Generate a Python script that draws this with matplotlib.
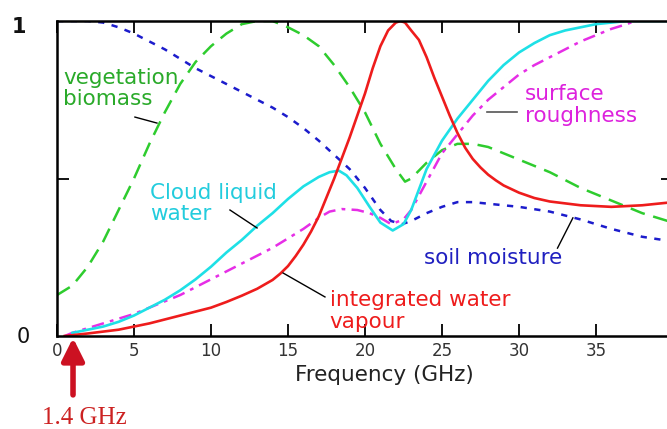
import matplotlib
matplotlib.use("Agg")
import matplotlib.pyplot as plt

# ---------------- data ----------------
veg_f = [0, 1, 2, 3, 4, 5, 6, 7, 8, 9, 10, 11, 12, 13, 14, 15, 16, 17, 18, 19, 20, 21, 22,
         22.6, 23, 24, 25, 26, 27, 28, 30, 32, 34, 36, 38, 40]
veg_v = [0.13, 0.16, 0.22, 0.30, 0.40, 0.50, 0.61, 0.71, 0.80, 0.87, 0.92, 0.96, 0.99, 1.0,
         1.0, 0.98, 0.955, 0.92, 0.86, 0.79, 0.71, 0.61, 0.53, 0.49, 0.50, 0.55, 0.59, 0.61,
         0.61, 0.60, 0.56, 0.52, 0.47, 0.43, 0.39, 0.36]

soil_f = [0, 1, 2, 3, 4, 5, 6, 7, 8, 9, 10, 11, 12, 13, 14, 15, 16, 17, 18, 19, 20, 21, 21.7,
          22.4, 23, 24, 25, 26, 27, 28, 30, 32, 34, 36, 38, 40]
soil_v = [1.0, 1.0, 1.0, 0.995, 0.98, 0.96, 0.935, 0.91, 0.88, 0.85, 0.825, 0.80, 0.775, 0.75,
          0.725, 0.695, 0.66, 0.62, 0.575, 0.53, 0.47, 0.40, 0.365, 0.355, 0.365, 0.39, 0.41,
          0.425, 0.425, 0.42, 0.41, 0.395, 0.37, 0.34, 0.315, 0.30]

cloud_f = [1, 2, 3, 4, 5, 6, 7, 8, 9, 10, 11, 12, 13, 14, 15, 16, 17, 17.7, 18.3, 18.8, 19.5,
           20.3, 21, 21.8, 22.5, 23, 24, 25, 26, 27, 28, 29, 30, 31, 32, 33, 34, 35, 36, 37,
           38, 40]
cloud_v = [0.01, 0.02, 0.03, 0.045, 0.065, 0.09, 0.115, 0.145, 0.18, 0.22, 0.265, 0.305, 0.35,
           0.39, 0.435, 0.475, 0.505, 0.52, 0.525, 0.51, 0.47, 0.41, 0.36, 0.335, 0.355, 0.40,
           0.53, 0.62, 0.69, 0.75, 0.81, 0.86, 0.90, 0.93, 0.955, 0.97, 0.98, 0.99, 0.995,
           1.0, 1.0, 1.0]

rough_f = [0.5, 1, 2, 3, 4, 5, 6, 7, 8, 9, 10, 11, 12, 13, 14, 15, 16, 17, 17.7, 18.5, 19.5,
           20.3, 21, 21.7, 22.5, 23, 24, 25, 26, 27, 28, 29, 30, 31, 32, 33, 34, 35, 36, 37,
           37.5]
rough_v = [0.0, 0.01, 0.025, 0.04, 0.055, 0.07, 0.09, 0.11, 0.13, 0.155, 0.18, 0.205, 0.23,
           0.255, 0.28, 0.31, 0.34, 0.375, 0.395, 0.403, 0.40, 0.39, 0.375, 0.355, 0.37, 0.40,
           0.49, 0.58, 0.64, 0.70, 0.75, 0.79, 0.83, 0.86, 0.885, 0.91, 0.935, 0.955, 0.975,
           0.99, 1.0]

vap_f = [0.5, 2, 4, 6, 8, 10, 11, 12, 13, 14, 14.5, 15, 15.5, 16, 16.5, 17, 17.5, 18, 18.5,
         19, 19.5, 20, 20.5, 21, 21.5, 22, 22.3, 22.6, 23, 23.5, 24, 24.5, 25, 25.5, 26, 26.5,
         27, 27.5, 28, 28.5, 29, 30, 31, 32, 34, 36, 38, 40]
vap_v = [0.0, 0.008, 0.02, 0.04, 0.065, 0.09, 0.108, 0.128, 0.15, 0.178, 0.198, 0.222, 0.254,
         0.29, 0.332, 0.38, 0.44, 0.50, 0.565, 0.63, 0.70, 0.77, 0.85, 0.92, 0.97, 0.995, 1.0,
         0.995, 0.97, 0.94, 0.885, 0.82, 0.76, 0.70, 0.645, 0.598, 0.562, 0.535, 0.512, 0.494,
         0.478, 0.455, 0.438, 0.427, 0.415, 0.41, 0.415, 0.425]

x_ticks = [0, 5, 10, 15, 20, 25, 30, 35]
x_ticklabels = ["0", "5", "10", "15", "20", "25", "30", "35"]

# ---------------- figure ----------------
W, H = 667, 429
fig = plt.figure(figsize=(W / 100, H / 100), dpi=100)
ax = fig.add_axes([57 / W, (H - 336) / H, 616 / W, 315 / H])

GREEN = "#2ecc2e"
BLUE = "#1c1ccc"
CYAN = "#1ee0e6"
MAGENTA = "#e62ee6"
RED = "#ee1c1c"

ax.plot(veg_f, veg_v, color=GREEN, lw=1.8, dashes=(6, 3.5))
ax.plot(soil_f, soil_v, color=BLUE, lw=1.8, dashes=(2.5, 3.0))
ax.plot(rough_f, rough_v, color=MAGENTA, lw=1.8, dashes=(5, 2.5, 1.5, 2.5))
ax.plot(cloud_f, cloud_v, color=CYAN, lw=1.9)
ax.plot(vap_f, vap_v, color=RED, lw=1.9)

ax.set_xlim(0, 40)
ax.set_ylim(0, 1)
ax.set_xticks(x_ticks)
ax.set_xticklabels(x_ticklabels)
ax.set_yticks([0.5])
ax.set_yticklabels([""])
ax.tick_params(axis="both", direction="in", top=True, right=True, length=8.5, width=1.3)
ax.tick_params(axis="x", labelsize=12, labelcolor="#333333", pad=4)
for s in ax.spines.values():
    s.set_linewidth(1.8)

# y-axis end labels
fig.text(19 / W, 1 - 27 / H, "1", fontsize=15, color="#111111", fontweight="bold",
         ha="center", va="center")
fig.text(23 / W, 1 - 337 / H, "0", fontsize=15, color="#111111", ha="center", va="center")

FS = 15.5
LS = 1.08
ax.text(0.39, 0.786, "vegetation\nbiomass", color="#2aaa2a", fontsize=FS, va="center",
        ha="left", linespacing=LS)
ax.text(6.04, 0.42, "Cloud liquid\nwater", color="#22ccdd", fontsize=FS, va="center",
        ha="left", linespacing=LS)
ax.text(30.4, 0.733, "surface\nroughness", color="#dd22dd", fontsize=FS, va="center",
        ha="left", linespacing=LS)
ax.text(23.8, 0.248, "soil moisture", color="#2020c0", fontsize=FS, va="center", ha="left")
ax.text(17.7, 0.079, "integrated water\nvapour", color="#ee1c1c", fontsize=FS, va="center",
        ha="left", linespacing=LS, clip_on=False)

# leader lines
ax.plot([5.06, 6.49], [0.695, 0.676], color="black", lw=1.0)
ax.plot([11.23, 12.99], [0.40, 0.343], color="black", lw=1.0)
ax.plot([27.9, 29.9], [0.711, 0.711], color="#555555", lw=1.2)
ax.plot([32.5, 33.5], [0.279, 0.375], color="black", lw=1.0)
ax.plot([14.68, 17.4], [0.20, 0.124], color="black", lw=1.0)

fig.text(384 / W, 1 - 375 / H, "Frequency (GHz)", fontsize=FS, color="#222222",
         ha="center", va="center")

ax.annotate("", xy=(1.04, -0.006), xytext=(1.04, -0.187), xycoords="data",
            annotation_clip=False,
            arrowprops=dict(arrowstyle="-|>,head_length=0.9,head_width=0.45",
                            lw=4, color="#cc1122", mutation_scale=15, shrinkA=0, shrinkB=0))
fig.text(84 / W, 1 - 418 / H, "1.4 GHz", fontsize=18, color="#cc2222",
         family="Liberation Serif", ha="center", va="center")

fig.savefig("out.png", dpi=100)
